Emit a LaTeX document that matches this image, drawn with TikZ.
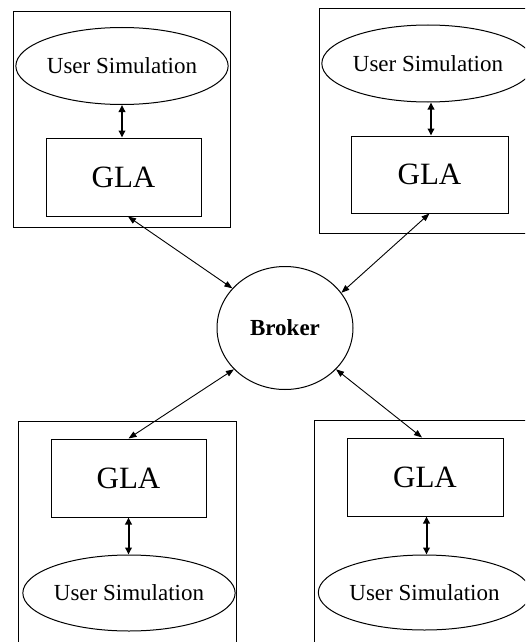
\documentclass[tikz,border=0pt]{standalone}
\usepackage{fontspec}
\setmainfont{Liberation Serif}
\usetikzlibrary{arrows.meta,shapes.geometric}
\begin{document}
\begin{tikzpicture}[x=1pt,y=1pt,
  frame/.style={draw,line width=1pt},
  simnode/.style={draw,ellipse,line width=1pt,inner sep=0pt,font=\fontsize{23}{26}\selectfont},
  glanode/.style={draw,rectangle,line width=1pt,inner sep=0pt,font=\fontsize{31}{34}\selectfont},
  brokernode/.style={draw,ellipse,line width=1pt,inner sep=0pt,minimum width=136pt,minimum height=123pt,font=\fontsize{23}{26}\selectfont\bfseries},
  link/.style={{Triangle[length=8pt,width=6pt]}-{Triangle[length=8pt,width=6pt]},line width=0.9pt,shorten <=0pt,shorten >=0pt},
  local/.style={{Triangle[length=7pt,width=6.5pt]}-{Triangle[length=7pt,width=6.5pt]},line width=2pt}]
\clip (0,0) rectangle (525,-642);

% four agent hosts
\draw[frame] (13,-12) rectangle (230,-227);
\draw[frame] (319,-9) rectangle (535,-233);
\draw[frame] (18,-421) rectangle (236,-660);
\draw[frame] (314,-420) rectangle (535,-660);

% top left
\node[simnode,minimum width=201pt,minimum height=77pt] (tlsim) at (122,-66) {User Simulation};
\node[glanode,minimum width=155pt,minimum height=78pt] (tlgla) at (123.5,-177) {GLA};
% top right
\node[simnode,minimum width=200pt,minimum height=77pt] (trsim) at (428,-63.5) {User Simulation};
\node[glanode,minimum width=157pt,minimum height=77pt] (trgla) at (429.5,-174.5) {GLA};
% bottom left
\node[glanode,minimum width=155pt,minimum height=78pt] (blgla) at (128.5,-478) {GLA};
\node[simnode,minimum width=202pt,minimum height=76pt] (blsim) at (129,-593) {User Simulation};
% bottom right
\node[glanode,minimum width=156pt,minimum height=78pt] (brgla) at (425,-477) {GLA};
\node[simnode,minimum width=201pt,minimum height=75pt] (brsim) at (424.5,-592.5) {User Simulation};

% broker
\node[brokernode] (broker) at (285,-328) {Broker};

% simulation <-> GLA
\draw[local] (tlsim.south) -- (tlsim.south |- tlgla.north);
\draw[local] ([xshift=3pt]trsim.south) -- ([xshift=3pt]trsim.south |- trgla.north);
\draw[local] (blgla.south) -- (blgla.south |- blsim.north);
\draw[local] ([xshift=1.5pt]brgla.south) -- ([xshift=1.5pt]brgla.south |- brsim.north);

% GLA <-> broker
\draw[link] ([xshift=4.5pt]tlgla.south) -- (broker.143);
\draw[link] (trgla.south) -- (broker.32.5);
\draw[link] (blgla.north) -- (broker.219);
\draw[link] ([xshift=-3pt]brgla.north) -- (broker.321);
\end{tikzpicture}
\end{document}
